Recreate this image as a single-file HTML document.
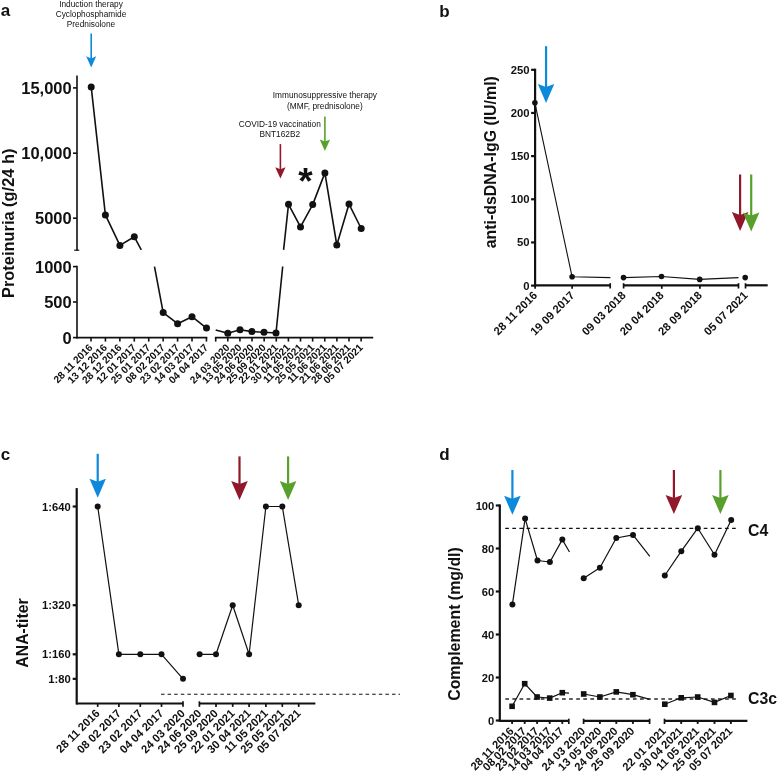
<!DOCTYPE html>
<html><head><meta charset="utf-8"><title>Figure</title>
<style>
html,body{margin:0;padding:0;background:#fff;}
svg{display:block;will-change:transform;font-family:"Liberation Sans",sans-serif;}
text{fill:#111;}
</style></head>
<body>
<svg width="777" height="774" viewBox="0 0 777 774">
<rect width="777" height="774" fill="#fff"/>
<text x="0.80" y="16.20" font-size="17" font-weight="700" text-anchor="start">a</text>
<text x="91.00" y="7.00" font-size="8.3" font-weight="400" text-anchor="middle">Induction therapy</text>
<text x="91.00" y="17.00" font-size="8.3" font-weight="400" text-anchor="middle">Cyclophosphamide</text>
<text x="91.00" y="27.00" font-size="8.3" font-weight="400" text-anchor="middle">Prednisolone</text>
<path d="M90.40 33.50H92.00V58.90H90.40Z" fill="#0d89dc"/>
<path d="M86.20 56.30L91.20 58.40L96.20 56.30L91.20 67.60Z" fill="#0d89dc"/>
<line x1="77.00" y1="75.40" x2="77.00" y2="250.60" stroke="#111" stroke-width="1.6"/>
<line x1="77.00" y1="265.80" x2="77.00" y2="338.40" stroke="#111" stroke-width="1.6"/>
<line x1="73.00" y1="87.90" x2="77.00" y2="87.90" stroke="#111" stroke-width="1.6"/>
<text x="71.70" y="93.80" font-size="16.5" font-weight="700" text-anchor="end">15,000</text>
<line x1="73.00" y1="153.20" x2="77.00" y2="153.20" stroke="#111" stroke-width="1.6"/>
<text x="71.70" y="159.10" font-size="16.5" font-weight="700" text-anchor="end">10,000</text>
<line x1="73.00" y1="218.20" x2="77.00" y2="218.20" stroke="#111" stroke-width="1.6"/>
<text x="71.70" y="224.10" font-size="16.5" font-weight="700" text-anchor="end">5000</text>
<line x1="74.20" y1="250.20" x2="79.20" y2="250.20" stroke="#111" stroke-width="1.2"/>
<line x1="73.00" y1="266.60" x2="77.00" y2="266.60" stroke="#111" stroke-width="1.6"/>
<text x="71.70" y="272.50" font-size="16.5" font-weight="700" text-anchor="end">1000</text>
<line x1="73.00" y1="302.00" x2="77.00" y2="302.00" stroke="#111" stroke-width="1.6"/>
<text x="71.70" y="307.90" font-size="16.5" font-weight="700" text-anchor="end">500</text>
<line x1="73.00" y1="337.60" x2="77.00" y2="337.60" stroke="#111" stroke-width="1.6"/>
<text x="71.70" y="343.50" font-size="16.5" font-weight="700" text-anchor="end">0</text>
<text x="13.80" y="223.30" font-size="16.4" font-weight="700" text-anchor="middle" transform="rotate(-90 13.80 223.30)">Proteinuria (g/24 h)</text>
<line x1="76.20" y1="337.60" x2="207.30" y2="337.60" stroke="#111" stroke-width="1.6"/>
<line x1="214.90" y1="337.60" x2="373.20" y2="337.60" stroke="#111" stroke-width="1.6"/>
<line x1="91.00" y1="337.60" x2="91.00" y2="341.60" stroke="#111" stroke-width="1.6"/>
<text x="93.40" y="348.20" font-size="10.2" font-weight="700" text-anchor="end" transform="rotate(-45 93.40 348.20)">28 11 2016</text>
<line x1="105.43" y1="337.60" x2="105.43" y2="341.60" stroke="#111" stroke-width="1.6"/>
<text x="107.83" y="348.20" font-size="10.2" font-weight="700" text-anchor="end" transform="rotate(-45 107.83 348.20)">13 12 2016</text>
<line x1="119.86" y1="337.60" x2="119.86" y2="341.60" stroke="#111" stroke-width="1.6"/>
<text x="122.26" y="348.20" font-size="10.2" font-weight="700" text-anchor="end" transform="rotate(-45 122.26 348.20)">28 12 2016</text>
<line x1="134.29" y1="337.60" x2="134.29" y2="341.60" stroke="#111" stroke-width="1.6"/>
<text x="136.69" y="348.20" font-size="10.2" font-weight="700" text-anchor="end" transform="rotate(-45 136.69 348.20)">12 01 2017</text>
<line x1="148.72" y1="337.60" x2="148.72" y2="341.60" stroke="#111" stroke-width="1.6"/>
<text x="151.12" y="348.20" font-size="10.2" font-weight="700" text-anchor="end" transform="rotate(-45 151.12 348.20)">25 01 2017</text>
<line x1="163.15" y1="337.60" x2="163.15" y2="341.60" stroke="#111" stroke-width="1.6"/>
<text x="165.55" y="348.20" font-size="10.2" font-weight="700" text-anchor="end" transform="rotate(-45 165.55 348.20)">08 02 2017</text>
<line x1="177.58" y1="337.60" x2="177.58" y2="341.60" stroke="#111" stroke-width="1.6"/>
<text x="179.98" y="348.20" font-size="10.2" font-weight="700" text-anchor="end" transform="rotate(-45 179.98 348.20)">23 02 2017</text>
<line x1="192.01" y1="337.60" x2="192.01" y2="341.60" stroke="#111" stroke-width="1.6"/>
<text x="194.41" y="348.20" font-size="10.2" font-weight="700" text-anchor="end" transform="rotate(-45 194.41 348.20)">14 03 2017</text>
<line x1="206.44" y1="337.60" x2="206.44" y2="341.60" stroke="#111" stroke-width="1.6"/>
<text x="208.84" y="348.20" font-size="10.2" font-weight="700" text-anchor="end" transform="rotate(-45 208.84 348.20)">04 04 2017</text>
<line x1="215.70" y1="337.60" x2="215.70" y2="341.60" stroke="#111" stroke-width="1.6"/>
<line x1="227.80" y1="337.60" x2="227.80" y2="341.60" stroke="#111" stroke-width="1.6"/>
<text x="230.20" y="348.20" font-size="10.2" font-weight="700" text-anchor="end" transform="rotate(-45 230.20 348.20)">24 03 2020</text>
<line x1="239.92" y1="337.60" x2="239.92" y2="341.60" stroke="#111" stroke-width="1.6"/>
<text x="242.32" y="348.20" font-size="10.2" font-weight="700" text-anchor="end" transform="rotate(-45 242.32 348.20)">13 05 2020</text>
<line x1="252.04" y1="337.60" x2="252.04" y2="341.60" stroke="#111" stroke-width="1.6"/>
<text x="254.44" y="348.20" font-size="10.2" font-weight="700" text-anchor="end" transform="rotate(-45 254.44 348.20)">24 06 2020</text>
<line x1="264.16" y1="337.60" x2="264.16" y2="341.60" stroke="#111" stroke-width="1.6"/>
<text x="266.56" y="348.20" font-size="10.2" font-weight="700" text-anchor="end" transform="rotate(-45 266.56 348.20)">25 09 2020</text>
<line x1="276.28" y1="337.60" x2="276.28" y2="341.60" stroke="#111" stroke-width="1.6"/>
<text x="278.68" y="348.20" font-size="10.2" font-weight="700" text-anchor="end" transform="rotate(-45 278.68 348.20)">22 01 2021</text>
<line x1="288.40" y1="337.60" x2="288.40" y2="341.60" stroke="#111" stroke-width="1.6"/>
<text x="290.80" y="348.20" font-size="10.2" font-weight="700" text-anchor="end" transform="rotate(-45 290.80 348.20)">30 04 2021</text>
<line x1="300.52" y1="337.60" x2="300.52" y2="341.60" stroke="#111" stroke-width="1.6"/>
<text x="302.92" y="348.20" font-size="10.2" font-weight="700" text-anchor="end" transform="rotate(-45 302.92 348.20)">11 05 2021</text>
<line x1="312.64" y1="337.60" x2="312.64" y2="341.60" stroke="#111" stroke-width="1.6"/>
<text x="315.04" y="348.20" font-size="10.2" font-weight="700" text-anchor="end" transform="rotate(-45 315.04 348.20)">25 05 2021</text>
<line x1="324.76" y1="337.60" x2="324.76" y2="341.60" stroke="#111" stroke-width="1.6"/>
<text x="327.16" y="348.20" font-size="10.2" font-weight="700" text-anchor="end" transform="rotate(-45 327.16 348.20)">11 06 2021</text>
<line x1="336.88" y1="337.60" x2="336.88" y2="341.60" stroke="#111" stroke-width="1.6"/>
<text x="339.28" y="348.20" font-size="10.2" font-weight="700" text-anchor="end" transform="rotate(-45 339.28 348.20)">21 06 2021</text>
<line x1="349.00" y1="337.60" x2="349.00" y2="341.60" stroke="#111" stroke-width="1.6"/>
<text x="351.40" y="348.20" font-size="10.2" font-weight="700" text-anchor="end" transform="rotate(-45 351.40 348.20)">28 06 2021</text>
<line x1="361.12" y1="337.60" x2="361.12" y2="341.60" stroke="#111" stroke-width="1.6"/>
<text x="363.52" y="348.20" font-size="10.2" font-weight="700" text-anchor="end" transform="rotate(-45 363.52 348.20)">05 07 2021</text>
<polyline points="91.20,86.90 105.40,214.90 119.90,245.40 134.30,236.80 141.30,249.80" fill="none" stroke="#111" stroke-width="1.6" stroke-linejoin="round"/>
<polyline points="154.50,266.60 163.20,312.60 177.60,323.70 192.00,316.70 206.50,328.10" fill="none" stroke="#111" stroke-width="1.6" stroke-linejoin="round"/>
<polyline points="215.70,330.00 227.80,333.20 240.00,329.70 251.90,331.60 264.00,332.20 276.00,333.00 282.70,266.50" fill="none" stroke="#111" stroke-width="1.6" stroke-linejoin="round"/>
<polyline points="283.60,249.90 288.50,204.30 300.50,226.90 312.70,204.60 324.90,172.90 336.80,245.00 349.00,204.10 361.20,228.50" fill="none" stroke="#111" stroke-width="1.6" stroke-linejoin="round"/>
<circle cx="91.20" cy="86.90" r="3.5" fill="#111"/>
<circle cx="105.40" cy="214.90" r="3.5" fill="#111"/>
<circle cx="119.90" cy="245.40" r="3.5" fill="#111"/>
<circle cx="134.30" cy="236.80" r="3.5" fill="#111"/>
<circle cx="163.20" cy="312.60" r="3.5" fill="#111"/>
<circle cx="177.60" cy="323.70" r="3.5" fill="#111"/>
<circle cx="192.00" cy="316.70" r="3.5" fill="#111"/>
<circle cx="206.50" cy="328.10" r="3.5" fill="#111"/>
<circle cx="227.80" cy="333.20" r="3.5" fill="#111"/>
<circle cx="240.00" cy="329.70" r="3.5" fill="#111"/>
<circle cx="251.90" cy="331.60" r="3.5" fill="#111"/>
<circle cx="264.00" cy="332.20" r="3.5" fill="#111"/>
<circle cx="276.00" cy="333.00" r="3.5" fill="#111"/>
<circle cx="288.50" cy="204.30" r="3.5" fill="#111"/>
<circle cx="300.50" cy="226.90" r="3.5" fill="#111"/>
<circle cx="312.70" cy="204.60" r="3.5" fill="#111"/>
<circle cx="324.90" cy="172.90" r="3.5" fill="#111"/>
<circle cx="336.80" cy="245.00" r="3.5" fill="#111"/>
<circle cx="349.00" cy="204.10" r="3.5" fill="#111"/>
<circle cx="361.20" cy="228.50" r="3.5" fill="#111"/>
<text x="324.90" y="98.30" font-size="8.3" font-weight="400" text-anchor="middle">Immunosuppressive therapy</text>
<text x="324.90" y="108.50" font-size="8.3" font-weight="400" text-anchor="middle">(MMF, prednisolone)</text>
<path d="M324.10 116.40H325.70V142.10H324.10Z" fill="#58a02c"/>
<path d="M319.75 139.50L324.90 141.60L330.05 139.50L324.90 150.90Z" fill="#58a02c"/>
<text x="279.80" y="127.00" font-size="8.3" font-weight="400" text-anchor="middle">COVID-19 vaccination</text>
<text x="279.80" y="136.80" font-size="8.3" font-weight="400" text-anchor="middle">BNT162B2</text>
<path d="M279.60 144.10H281.20V169.80H279.60Z" fill="#90182a"/>
<path d="M275.25 167.20L280.40 169.30L285.55 167.20L280.40 178.60Z" fill="#90182a"/>
<text x="305.50" y="194.00" font-size="37" font-weight="700" text-anchor="middle">*</text>
<text x="439.30" y="16.80" font-size="17" font-weight="700" text-anchor="start">b</text>
<line x1="535.10" y1="68.70" x2="535.10" y2="286.70" stroke="#111" stroke-width="2.2"/>
<line x1="531.10" y1="285.60" x2="535.10" y2="285.60" stroke="#111" stroke-width="2.2"/>
<text x="529.60" y="289.60" font-size="11.3" font-weight="700" text-anchor="end">0</text>
<line x1="531.10" y1="242.44" x2="535.10" y2="242.44" stroke="#111" stroke-width="2.2"/>
<text x="529.60" y="246.44" font-size="11.3" font-weight="700" text-anchor="end">50</text>
<line x1="531.10" y1="199.28" x2="535.10" y2="199.28" stroke="#111" stroke-width="2.2"/>
<text x="529.60" y="203.28" font-size="11.3" font-weight="700" text-anchor="end">100</text>
<line x1="531.10" y1="156.12" x2="535.10" y2="156.12" stroke="#111" stroke-width="2.2"/>
<text x="529.60" y="160.12" font-size="11.3" font-weight="700" text-anchor="end">150</text>
<line x1="531.10" y1="112.96" x2="535.10" y2="112.96" stroke="#111" stroke-width="2.2"/>
<text x="529.60" y="116.96" font-size="11.3" font-weight="700" text-anchor="end">200</text>
<line x1="531.10" y1="69.80" x2="535.10" y2="69.80" stroke="#111" stroke-width="2.2"/>
<text x="529.60" y="73.80" font-size="11.3" font-weight="700" text-anchor="end">250</text>
<text x="495.60" y="162.20" font-size="15.9" font-weight="700" text-anchor="middle" transform="rotate(-90 495.60 162.20)">anti-dsDNA-IgG (IU/ml)</text>
<line x1="535.10" y1="285.30" x2="610.40" y2="285.30" stroke="#111" stroke-width="2.2"/>
<line x1="623.50" y1="285.30" x2="738.50" y2="285.30" stroke="#111" stroke-width="2.2"/>
<line x1="745.50" y1="285.30" x2="767.70" y2="285.30" stroke="#111" stroke-width="2.2"/>
<line x1="572.10" y1="285.30" x2="572.10" y2="288.80" stroke="#111" stroke-width="1.7"/>
<line x1="661.80" y1="285.30" x2="661.80" y2="288.80" stroke="#111" stroke-width="1.7"/>
<line x1="699.90" y1="285.30" x2="699.90" y2="288.80" stroke="#111" stroke-width="1.7"/>
<line x1="610.20" y1="283.20" x2="610.20" y2="288.50" stroke="#111" stroke-width="1.7"/>
<line x1="623.60" y1="283.20" x2="623.60" y2="288.50" stroke="#111" stroke-width="1.7"/>
<line x1="738.50" y1="283.20" x2="738.50" y2="288.50" stroke="#111" stroke-width="1.7"/>
<line x1="745.50" y1="283.20" x2="745.50" y2="288.50" stroke="#111" stroke-width="1.7"/>
<line x1="535.10" y1="285.30" x2="535.10" y2="288.80" stroke="#111" stroke-width="1.7"/>
<text x="537.90" y="296.10" font-size="11.3" font-weight="700" text-anchor="end" transform="rotate(-45 537.90 296.10)">28 11 2016</text>
<text x="575.10" y="296.10" font-size="11.3" font-weight="700" text-anchor="end" transform="rotate(-45 575.10 296.10)">19 09 2017</text>
<text x="626.50" y="296.10" font-size="11.3" font-weight="700" text-anchor="end" transform="rotate(-45 626.50 296.10)">09 03 2018</text>
<text x="664.50" y="296.10" font-size="11.3" font-weight="700" text-anchor="end" transform="rotate(-45 664.50 296.10)">20 04 2018</text>
<text x="702.70" y="296.10" font-size="11.3" font-weight="700" text-anchor="end" transform="rotate(-45 702.70 296.10)">28 09 2018</text>
<text x="748.50" y="296.10" font-size="11.3" font-weight="700" text-anchor="end" transform="rotate(-45 748.50 296.10)">05 07 2021</text>
<path d="M544.96 46.20H547.16V87.60H544.96Z" fill="#0d89dc"/>
<path d="M537.86 84.10L546.06 87.10L554.26 84.10L546.06 102.90Z" fill="#0d89dc"/>
<path d="M739.00 174.50H741.20V215.60H739.00Z" fill="#90182a"/>
<path d="M731.90 212.10L740.10 215.10L748.30 212.10L740.10 231.10Z" fill="#90182a"/>
<path d="M750.10 174.50H752.30V216.00H750.10Z" fill="#58a02c"/>
<path d="M743.00 212.50L751.20 215.50L759.40 212.50L751.20 231.50Z" fill="#58a02c"/>
<polyline points="534.90,102.80 572.10,276.80 610.40,277.60" fill="none" stroke="#111" stroke-width="1.1" stroke-linejoin="round"/>
<polyline points="623.50,277.60 661.50,276.50 699.70,279.40 738.50,277.60" fill="none" stroke="#111" stroke-width="1.1" stroke-linejoin="round"/>
<circle cx="534.90" cy="102.80" r="2.8" fill="#111"/>
<circle cx="572.10" cy="276.80" r="2.8" fill="#111"/>
<circle cx="623.50" cy="277.60" r="2.8" fill="#111"/>
<circle cx="661.50" cy="276.50" r="2.8" fill="#111"/>
<circle cx="699.70" cy="279.40" r="2.8" fill="#111"/>
<circle cx="745.20" cy="277.60" r="2.8" fill="#111"/>
<text x="0.80" y="459.80" font-size="17" font-weight="700" text-anchor="start">c</text>
<line x1="76.70" y1="488.10" x2="76.70" y2="704.60" stroke="#111" stroke-width="2.2"/>
<line x1="72.70" y1="506.50" x2="76.70" y2="506.50" stroke="#111" stroke-width="2.2"/>
<text x="70.70" y="510.50" font-size="11.2" font-weight="700" text-anchor="end">1:640</text>
<line x1="72.70" y1="605.20" x2="76.70" y2="605.20" stroke="#111" stroke-width="2.2"/>
<text x="70.70" y="609.20" font-size="11.2" font-weight="700" text-anchor="end">1:320</text>
<line x1="72.70" y1="654.30" x2="76.70" y2="654.30" stroke="#111" stroke-width="2.2"/>
<text x="70.70" y="658.30" font-size="11.2" font-weight="700" text-anchor="end">1:160</text>
<line x1="72.70" y1="678.85" x2="76.70" y2="678.85" stroke="#111" stroke-width="2.2"/>
<text x="70.70" y="682.85" font-size="11.2" font-weight="700" text-anchor="end">1:80</text>
<text x="27.50" y="633.00" font-size="15.8" font-weight="700" text-anchor="middle" transform="rotate(-90 27.50 633.00)">ANA-titer</text>
<line x1="76.70" y1="703.50" x2="183.00" y2="703.50" stroke="#111" stroke-width="2.2"/>
<line x1="199.60" y1="703.50" x2="315.40" y2="703.50" stroke="#111" stroke-width="2.2"/>
<text x="100.40" y="714.00" font-size="11.3" font-weight="700" text-anchor="end" transform="rotate(-45 100.40 714.00)">28 11 2016</text>
<text x="121.60" y="714.00" font-size="11.3" font-weight="700" text-anchor="end" transform="rotate(-45 121.60 714.00)">08 02 2017</text>
<text x="143.00" y="714.00" font-size="11.3" font-weight="700" text-anchor="end" transform="rotate(-45 143.00 714.00)">23 02 2017</text>
<text x="164.20" y="714.00" font-size="11.3" font-weight="700" text-anchor="end" transform="rotate(-45 164.20 714.00)">04 04 2017</text>
<text x="185.70" y="714.00" font-size="11.3" font-weight="700" text-anchor="end" transform="rotate(-45 185.70 714.00)">24 03 2020</text>
<text x="202.30" y="714.00" font-size="11.3" font-weight="700" text-anchor="end" transform="rotate(-45 202.30 714.00)">24 06 2020</text>
<text x="218.70" y="714.00" font-size="11.3" font-weight="700" text-anchor="end" transform="rotate(-45 218.70 714.00)">25 09 2020</text>
<text x="235.40" y="714.00" font-size="11.3" font-weight="700" text-anchor="end" transform="rotate(-45 235.40 714.00)">22 01 2021</text>
<text x="251.80" y="714.00" font-size="11.3" font-weight="700" text-anchor="end" transform="rotate(-45 251.80 714.00)">30 04 2021</text>
<text x="268.60" y="714.00" font-size="11.3" font-weight="700" text-anchor="end" transform="rotate(-45 268.60 714.00)">11 05 2021</text>
<text x="285.00" y="714.00" font-size="11.3" font-weight="700" text-anchor="end" transform="rotate(-45 285.00 714.00)">25 05 2021</text>
<text x="301.40" y="714.00" font-size="11.3" font-weight="700" text-anchor="end" transform="rotate(-45 301.40 714.00)">05 07 2021</text>
<line x1="97.70" y1="703.50" x2="97.70" y2="706.90" stroke="#111" stroke-width="1.7"/>
<line x1="118.90" y1="703.50" x2="118.90" y2="706.90" stroke="#111" stroke-width="1.7"/>
<line x1="140.30" y1="703.50" x2="140.30" y2="706.90" stroke="#111" stroke-width="1.7"/>
<line x1="161.50" y1="703.50" x2="161.50" y2="706.90" stroke="#111" stroke-width="1.7"/>
<line x1="216.00" y1="703.50" x2="216.00" y2="706.90" stroke="#111" stroke-width="1.7"/>
<line x1="232.70" y1="703.50" x2="232.70" y2="706.90" stroke="#111" stroke-width="1.7"/>
<line x1="249.10" y1="703.50" x2="249.10" y2="706.90" stroke="#111" stroke-width="1.7"/>
<line x1="265.90" y1="703.50" x2="265.90" y2="706.90" stroke="#111" stroke-width="1.7"/>
<line x1="282.30" y1="703.50" x2="282.30" y2="706.90" stroke="#111" stroke-width="1.7"/>
<line x1="298.70" y1="703.50" x2="298.70" y2="706.90" stroke="#111" stroke-width="1.7"/>
<line x1="183.00" y1="701.30" x2="183.00" y2="706.80" stroke="#111" stroke-width="1.7"/>
<line x1="199.40" y1="701.30" x2="199.40" y2="706.80" stroke="#111" stroke-width="1.7"/>
<line x1="161.00" y1="694.20" x2="400.00" y2="694.20" stroke="#111" stroke-width="1.05" stroke-dasharray="3.5 3.1"/>
<polyline points="97.70,506.50 118.90,654.30 140.30,654.30 161.50,654.30 183.00,678.85" fill="none" stroke="#111" stroke-width="1.2" stroke-linejoin="round"/>
<polyline points="199.60,654.30 216.00,654.30 232.70,605.20 249.10,654.30 265.90,506.50 282.30,506.50 298.70,605.20" fill="none" stroke="#111" stroke-width="1.2" stroke-linejoin="round"/>
<circle cx="97.70" cy="506.50" r="3.0" fill="#111"/>
<circle cx="118.90" cy="654.30" r="3.0" fill="#111"/>
<circle cx="140.30" cy="654.30" r="3.0" fill="#111"/>
<circle cx="161.50" cy="654.30" r="3.0" fill="#111"/>
<circle cx="183.00" cy="678.85" r="3.0" fill="#111"/>
<circle cx="199.60" cy="654.30" r="3.0" fill="#111"/>
<circle cx="216.00" cy="654.30" r="3.0" fill="#111"/>
<circle cx="232.70" cy="605.20" r="3.0" fill="#111"/>
<circle cx="249.10" cy="654.30" r="3.0" fill="#111"/>
<circle cx="265.90" cy="506.50" r="3.0" fill="#111"/>
<circle cx="282.30" cy="506.50" r="3.0" fill="#111"/>
<circle cx="298.70" cy="605.20" r="3.0" fill="#111"/>
<path d="M96.60 453.80H98.80V482.20H96.60Z" fill="#0d89dc"/>
<path d="M89.50 478.70L97.70 481.70L105.90 478.70L97.70 497.70Z" fill="#0d89dc"/>
<path d="M238.40 456.40H240.60V484.60H238.40Z" fill="#90182a"/>
<path d="M231.20 481.10L239.50 484.10L247.80 481.10L239.50 500.10Z" fill="#90182a"/>
<path d="M287.00 456.40H289.20V484.60H287.00Z" fill="#58a02c"/>
<path d="M279.80 481.10L288.10 484.10L296.40 481.10L288.10 500.10Z" fill="#58a02c"/>
<text x="439.30" y="459.80" font-size="17" font-weight="700" text-anchor="start">d</text>
<line x1="499.80" y1="504.40" x2="499.80" y2="721.90" stroke="#111" stroke-width="2.2"/>
<line x1="495.80" y1="720.50" x2="499.80" y2="720.50" stroke="#111" stroke-width="2.2"/>
<text x="494.30" y="724.50" font-size="11.2" font-weight="700" text-anchor="end">0</text>
<line x1="495.80" y1="677.50" x2="499.80" y2="677.50" stroke="#111" stroke-width="2.2"/>
<text x="494.30" y="681.50" font-size="11.2" font-weight="700" text-anchor="end">20</text>
<line x1="495.80" y1="634.50" x2="499.80" y2="634.50" stroke="#111" stroke-width="2.2"/>
<text x="494.30" y="638.50" font-size="11.2" font-weight="700" text-anchor="end">40</text>
<line x1="495.80" y1="591.50" x2="499.80" y2="591.50" stroke="#111" stroke-width="2.2"/>
<text x="494.30" y="595.50" font-size="11.2" font-weight="700" text-anchor="end">60</text>
<line x1="495.80" y1="548.50" x2="499.80" y2="548.50" stroke="#111" stroke-width="2.2"/>
<text x="494.30" y="552.50" font-size="11.2" font-weight="700" text-anchor="end">80</text>
<line x1="495.80" y1="505.50" x2="499.80" y2="505.50" stroke="#111" stroke-width="2.2"/>
<text x="494.30" y="509.50" font-size="11.2" font-weight="700" text-anchor="end">100</text>
<text x="460.00" y="624.00" font-size="15.9" font-weight="700" text-anchor="middle" transform="rotate(-90 460.00 624.00)">Complement (mg/dl)</text>
<line x1="499.80" y1="720.80" x2="569.00" y2="720.80" stroke="#111" stroke-width="2.2"/>
<line x1="583.70" y1="720.80" x2="649.60" y2="720.80" stroke="#111" stroke-width="2.2"/>
<line x1="664.50" y1="720.80" x2="747.40" y2="720.80" stroke="#111" stroke-width="2.2"/>
<text x="514.30" y="731.80" font-size="11.2" font-weight="700" text-anchor="end" transform="rotate(-45 514.30 731.80)">28 11 2016</text>
<text x="526.90" y="731.80" font-size="11.2" font-weight="700" text-anchor="end" transform="rotate(-45 526.90 731.80)">08 02 2017</text>
<text x="539.30" y="731.80" font-size="11.2" font-weight="700" text-anchor="end" transform="rotate(-45 539.30 731.80)">23 02 2017</text>
<text x="551.90" y="731.80" font-size="11.2" font-weight="700" text-anchor="end" transform="rotate(-45 551.90 731.80)">14 03 2017</text>
<text x="564.50" y="731.80" font-size="11.2" font-weight="700" text-anchor="end" transform="rotate(-45 564.50 731.80)">04 04 2017</text>
<text x="585.90" y="731.80" font-size="11.2" font-weight="700" text-anchor="end" transform="rotate(-45 585.90 731.80)">24 03 2020</text>
<text x="602.10" y="731.80" font-size="11.2" font-weight="700" text-anchor="end" transform="rotate(-45 602.10 731.80)">13 05 2020</text>
<text x="618.50" y="731.80" font-size="11.2" font-weight="700" text-anchor="end" transform="rotate(-45 618.50 731.80)">24 06 2020</text>
<text x="635.10" y="731.80" font-size="11.2" font-weight="700" text-anchor="end" transform="rotate(-45 635.10 731.80)">25 09 2020</text>
<text x="666.70" y="731.80" font-size="11.2" font-weight="700" text-anchor="end" transform="rotate(-45 666.70 731.80)">22 01 2021</text>
<text x="683.40" y="731.80" font-size="11.2" font-weight="700" text-anchor="end" transform="rotate(-45 683.40 731.80)">30 04 2021</text>
<text x="699.90" y="731.80" font-size="11.2" font-weight="700" text-anchor="end" transform="rotate(-45 699.90 731.80)">11 05 2021</text>
<text x="716.70" y="731.80" font-size="11.2" font-weight="700" text-anchor="end" transform="rotate(-45 716.70 731.80)">25 05 2021</text>
<text x="733.10" y="731.80" font-size="11.2" font-weight="700" text-anchor="end" transform="rotate(-45 733.10 731.80)">05 07 2021</text>
<line x1="512.10" y1="720.80" x2="512.10" y2="723.90" stroke="#111" stroke-width="1.9"/>
<line x1="524.70" y1="720.80" x2="524.70" y2="723.90" stroke="#111" stroke-width="1.9"/>
<line x1="537.10" y1="720.80" x2="537.10" y2="723.90" stroke="#111" stroke-width="1.9"/>
<line x1="549.70" y1="720.80" x2="549.70" y2="723.90" stroke="#111" stroke-width="1.9"/>
<line x1="562.30" y1="720.80" x2="562.30" y2="723.90" stroke="#111" stroke-width="1.9"/>
<line x1="599.90" y1="720.80" x2="599.90" y2="723.90" stroke="#111" stroke-width="1.9"/>
<line x1="616.30" y1="720.80" x2="616.30" y2="723.90" stroke="#111" stroke-width="1.9"/>
<line x1="632.90" y1="720.80" x2="632.90" y2="723.90" stroke="#111" stroke-width="1.9"/>
<line x1="681.20" y1="720.80" x2="681.20" y2="723.90" stroke="#111" stroke-width="1.9"/>
<line x1="697.70" y1="720.80" x2="697.70" y2="723.90" stroke="#111" stroke-width="1.9"/>
<line x1="714.50" y1="720.80" x2="714.50" y2="723.90" stroke="#111" stroke-width="1.9"/>
<line x1="730.90" y1="720.80" x2="730.90" y2="723.90" stroke="#111" stroke-width="1.9"/>
<line x1="568.80" y1="718.70" x2="568.80" y2="724.00" stroke="#111" stroke-width="1.7"/>
<line x1="583.60" y1="718.70" x2="583.60" y2="724.00" stroke="#111" stroke-width="1.7"/>
<line x1="649.60" y1="718.70" x2="649.60" y2="724.00" stroke="#111" stroke-width="1.7"/>
<line x1="664.50" y1="718.70" x2="664.50" y2="724.00" stroke="#111" stroke-width="1.7"/>
<line x1="505.20" y1="528.40" x2="736.70" y2="528.40" stroke="#111" stroke-width="1.1" stroke-dasharray="3.7 3.39"/>
<line x1="505.30" y1="699.00" x2="736.00" y2="699.00" stroke="#2a2a2a" stroke-width="1.3" stroke-dasharray="3.7 3.39"/>
<text x="748.00" y="536.00" font-size="15.8" font-weight="700" text-anchor="start">C4</text>
<text x="748.00" y="704.30" font-size="15.8" font-weight="700" text-anchor="start">C3c</text>
<polyline points="512.40,604.40 525.10,518.60 537.50,560.50 549.90,562.00 562.30,539.60 569.50,552.00" fill="none" stroke="#111" stroke-width="1.2" stroke-linejoin="round"/>
<polyline points="583.70,578.30 599.90,567.70 616.30,538.00 633.00,534.90 649.80,556.40" fill="none" stroke="#111" stroke-width="1.2" stroke-linejoin="round"/>
<polyline points="664.80,575.50 681.30,551.20 697.80,528.20 714.50,554.80 731.20,519.90" fill="none" stroke="#111" stroke-width="1.2" stroke-linejoin="round"/>
<circle cx="512.40" cy="604.40" r="3.0" fill="#111"/>
<circle cx="525.10" cy="518.60" r="3.0" fill="#111"/>
<circle cx="537.50" cy="560.50" r="3.0" fill="#111"/>
<circle cx="549.90" cy="562.00" r="3.0" fill="#111"/>
<circle cx="562.30" cy="539.60" r="3.0" fill="#111"/>
<circle cx="583.70" cy="578.30" r="3.0" fill="#111"/>
<circle cx="599.90" cy="567.70" r="3.0" fill="#111"/>
<circle cx="616.30" cy="538.00" r="3.0" fill="#111"/>
<circle cx="633.00" cy="534.90" r="3.0" fill="#111"/>
<circle cx="664.80" cy="575.50" r="3.0" fill="#111"/>
<circle cx="681.30" cy="551.20" r="3.0" fill="#111"/>
<circle cx="697.80" cy="528.20" r="3.0" fill="#111"/>
<circle cx="714.50" cy="554.80" r="3.0" fill="#111"/>
<circle cx="731.20" cy="519.90" r="3.0" fill="#111"/>
<polyline points="512.10,706.30 524.70,683.70 537.10,697.00 549.70,698.10 562.30,692.70 569.00,693.20" fill="none" stroke="#111" stroke-width="1.2" stroke-linejoin="round"/>
<polyline points="583.70,694.00 599.90,697.00 616.30,691.90 632.90,694.70 649.60,699.40" fill="none" stroke="#111" stroke-width="1.2" stroke-linejoin="round"/>
<polyline points="664.80,704.20 681.20,697.80 697.70,697.00 714.50,702.40 730.90,695.50" fill="none" stroke="#111" stroke-width="1.2" stroke-linejoin="round"/>
<rect x="509.30" y="703.50" width="5.6" height="5.6" fill="#111"/>
<rect x="521.90" y="680.90" width="5.6" height="5.6" fill="#111"/>
<rect x="534.30" y="694.20" width="5.6" height="5.6" fill="#111"/>
<rect x="546.90" y="695.30" width="5.6" height="5.6" fill="#111"/>
<rect x="559.50" y="689.90" width="5.6" height="5.6" fill="#111"/>
<rect x="580.90" y="691.20" width="5.6" height="5.6" fill="#111"/>
<rect x="597.10" y="694.20" width="5.6" height="5.6" fill="#111"/>
<rect x="613.50" y="689.10" width="5.6" height="5.6" fill="#111"/>
<rect x="630.10" y="691.90" width="5.6" height="5.6" fill="#111"/>
<rect x="662.00" y="701.40" width="5.6" height="5.6" fill="#111"/>
<rect x="678.40" y="695.00" width="5.6" height="5.6" fill="#111"/>
<rect x="694.90" y="694.20" width="5.6" height="5.6" fill="#111"/>
<rect x="711.70" y="699.60" width="5.6" height="5.6" fill="#111"/>
<rect x="728.10" y="692.70" width="5.6" height="5.6" fill="#111"/>
<path d="M511.30 470.00H513.50V499.30H511.30Z" fill="#0d89dc"/>
<path d="M504.10 495.80L512.40 498.80L520.70 495.80L512.40 514.80Z" fill="#0d89dc"/>
<path d="M672.80 470.00H675.00V498.50H672.80Z" fill="#90182a"/>
<path d="M665.60 495.00L673.90 498.00L682.20 495.00L673.90 514.00Z" fill="#90182a"/>
<path d="M719.30 470.00H721.50V498.50H719.30Z" fill="#58a02c"/>
<path d="M712.10 495.00L720.40 498.00L728.70 495.00L720.40 514.00Z" fill="#58a02c"/>
</svg>
</body></html>
